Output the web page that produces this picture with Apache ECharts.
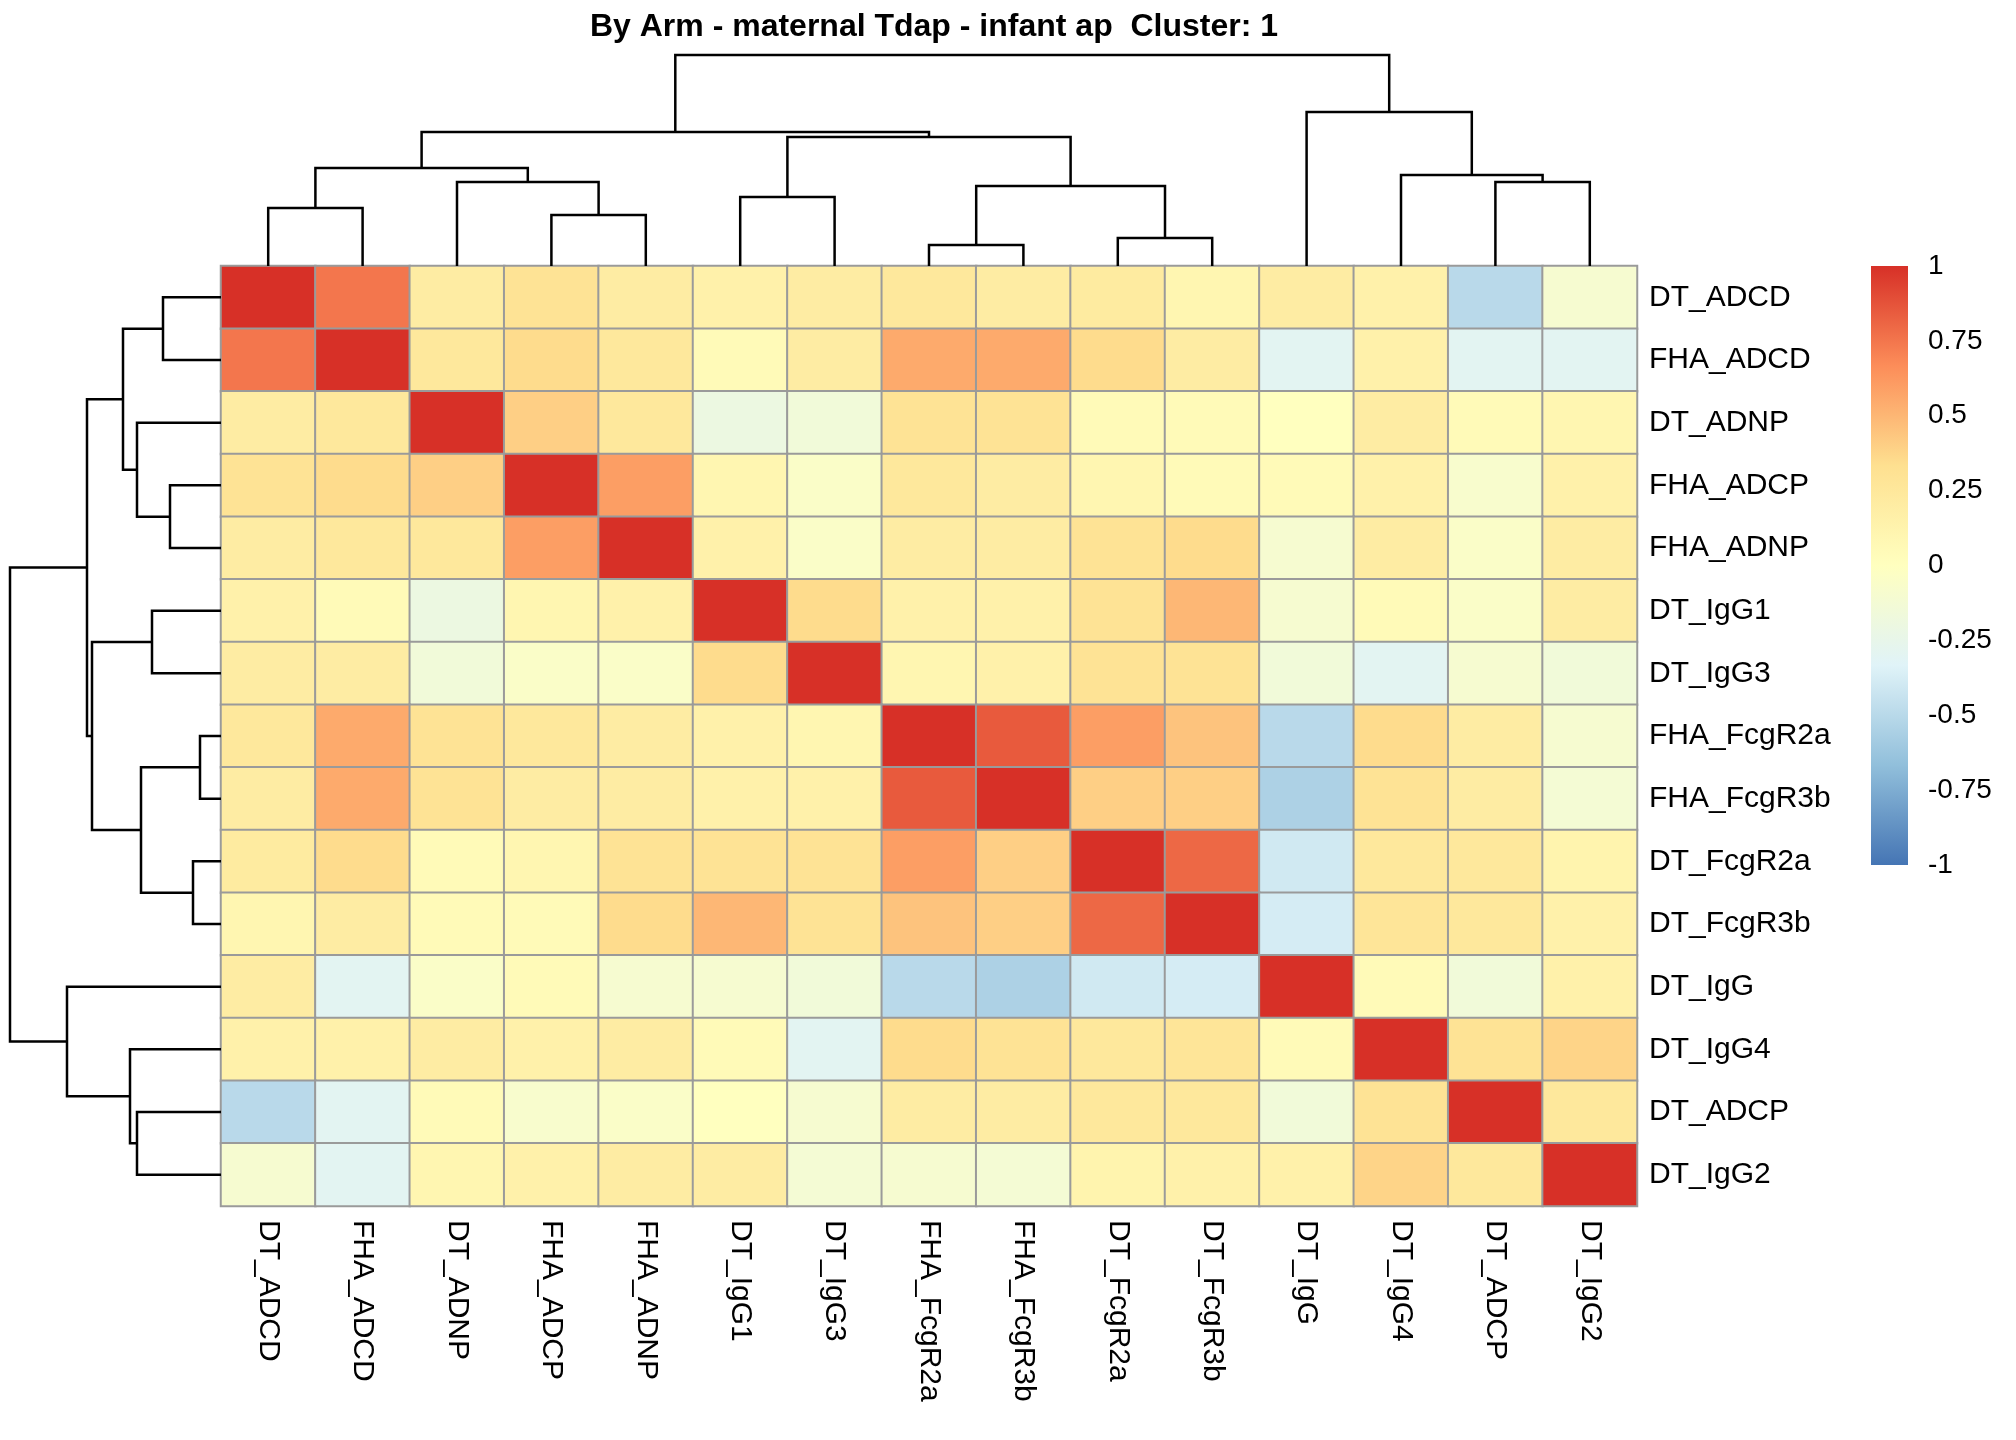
<!DOCTYPE html>
<html>
<head>
<meta charset="utf-8">
<script src="https://cdn.jsdelivr.net/npm/echarts@6/dist/echarts.min.js"></script>
<style>
  html, body { margin: 0; padding: 0; background: #fff; }
  #chart { width: 2016px; height: 1440px; }
</style>
</head>
<body>
<div id="chart"></div>
<script>
const labels = ['DT_ADCD', 'FHA_ADCD', 'DT_ADNP', 'FHA_ADCP', 'FHA_ADNP', 'DT_IgG1', 'DT_IgG3',
  'FHA_FcgR2a', 'FHA_FcgR3b', 'DT_FcgR2a', 'DT_FcgR3b', 'DT_IgG', 'DT_IgG4', 'DT_ADCP', 'DT_IgG2']

// correlation rows, same order as labels
const rowDT_ADCD = [1, 0.75, 0.2, 0.3, 0.2, 0.15, 0.2, 0.25, 0.2, 0.22, 0.1, 0.2, 0.15, -0.5, -0.1]
const rowFHA_ADCD = [0.75, 1, 0.25, 0.35, 0.25, 0.05, 0.2, 0.55, 0.55, 0.35, 0.2, -0.3, 0.15, -0.3, -0.3]
const rowDT_ADNP = [0.2, 0.25, 1, 0.4, 0.25, -0.2, -0.15, 0.3, 0.3, 0.05, 0.05, 0, 0.2, 0.05, 0.1]
const rowFHA_ADCP = [0.3, 0.35, 0.4, 1, 0.6, 0.1, -0.05, 0.25, 0.2, 0.1, 0.05, 0.05, 0.15, -0.08, 0.15]
const rowFHA_ADNP = [0.2, 0.25, 0.25, 0.6, 1, 0.15, -0.05, 0.2, 0.2, 0.3, 0.35, -0.1, 0.2, -0.05, 0.2]
const rowDT_IgG1 = [0.15, 0.05, -0.2, 0.1, 0.15, 1, 0.35, 0.15, 0.15, 0.3, 0.5, -0.1, 0.05, -0.05, 0.2]
const rowDT_IgG3 = [0.2, 0.2, -0.15, -0.05, -0.05, 0.35, 1, 0.1, 0.15, 0.3, 0.3, -0.15, -0.3, -0.1, -0.15]
const rowFHA_FcgR2a = [0.25, 0.55, 0.3, 0.25, 0.2, 0.15, 0.1, 1, 0.85, 0.6, 0.45, -0.5, 0.35, 0.2, -0.1]
const rowFHA_FcgR3b = [0.2, 0.55, 0.3, 0.2, 0.2, 0.15, 0.15, 0.85, 1, 0.4, 0.4, -0.55, 0.3, 0.2, -0.12]
const rowDT_FcgR2a = [0.22, 0.35, 0.05, 0.1, 0.3, 0.3, 0.3, 0.6, 0.4, 1, 0.8, -0.4, 0.25, 0.25, 0.12]
const rowDT_FcgR3b = [0.1, 0.2, 0.05, 0.05, 0.35, 0.5, 0.3, 0.45, 0.4, 0.8, 1, -0.38, 0.28, 0.25, 0.15]
const rowDT_IgG = [0.2, -0.3, -0.05, 0.05, -0.1, -0.1, -0.15, -0.5, -0.55, -0.4, -0.38, 1, 0.05, -0.15, 0.15]
const rowDT_IgG4 = [0.15, 0.15, 0.2, 0.15, 0.2, 0.05, -0.3, 0.35, 0.3, 0.25, 0.28, 0.05, 1, 0.3, 0.38]
const rowDT_ADCP = [-0.5, -0.3, 0.05, -0.08, -0.05, 0, -0.1, 0.2, 0.2, 0.25, 0.25, -0.15, 0.3, 1, 0.25]
const rowDT_IgG2 = [-0.1, -0.3, 0.1, 0.15, 0.2, 0.2, -0.12, -0.1, -0.12, 0.12, 0.15, 0.15, 0.38, 0.25, 1]
const rows = [rowDT_ADCD, rowFHA_ADCD, rowDT_ADNP, rowFHA_ADCP, rowFHA_ADNP, rowDT_IgG1, rowDT_IgG3,
  rowFHA_FcgR2a, rowFHA_FcgR3b, rowDT_FcgR2a, rowDT_FcgR3b, rowDT_IgG, rowDT_IgG4, rowDT_ADCP, rowDT_IgG2]

// hclust merges: [childA, childB, height]; ids 0-14 leaves, 15+ merged nodes
const merges = [
  [0, 1, 58], [3, 4, 51], [2, 16, 84], [15, 17, 98], [5, 6, 69], [7, 8, 21], [9, 10, 28],
  [20, 21, 80], [19, 22, 129], [18, 23, 134], [13, 14, 84], [12, 25, 91], [11, 26, 154], [24, 27, 211]
]
const legendTicks = [1, 0.75, 0.5, 0.25, 0, -0.25, -0.5, -0.75, -1]
const palette = ['#4575B4', '#91BFDB', '#E0F3F8', '#FFFFBF', '#FEE090', '#FC8D59', '#D73027']

const heatData = []
rows.forEach((r, i) => r.forEach((v, j) => heatData.push([j, i, v])))

// node positions / heights
const pos = labels.map((_, i) => i + 0.5)
const hgt = labels.map(() => 0)
const segs = []
merges.forEach(([a, b, h]) => {
  segs.push([pos[a], hgt[a], pos[b], hgt[b], h])
  pos.push((pos[a] + pos[b]) / 2)
  hgt.push(h)
})

const font = 'Liberation Sans, Arial, sans-serif'
const hm = { left: 221, top: 266, width: 1416, height: 940 }

function dendro(vertical) {
  return function (params, api) {
    const d = [0, 1, 2, 3, 4].map(k => api.value(k))
    const P = (p, h) => api.coord(vertical ? [p, h] : [h, p])
    const pts = [P(d[0], d[1]), P(d[0], d[4]), P(d[2], d[4]), P(d[2], d[3])]
    return { type: 'polyline', shape: { points: pts }, style: { stroke: '#000', lineWidth: 2.5, fill: null } }
  }
}

const chart = echarts.init(document.getElementById('chart'))
const hide = { show: false }
chart.setOption({
  animation: false,
  title: {
    text: 'By Arm - maternal Tdap - infant ap  Cluster: 1',
    left: 929, top: 6, textAlign: 'center',
    textStyle: { fontFamily: font, fontSize: 32, fontWeight: 'bold', color: '#000' }
  },
  grid: [
    hm,
    { left: 221, top: 55, width: 1416, height: 211 },
    { left: 10, top: 266, width: 211, height: 940 },
    { left: 1871, top: 266, width: 37, height: 599 }
  ],
  xAxis: [
    { type: 'category', data: labels, gridIndex: 0, position: 'bottom',
      axisLine: hide, axisTick: hide,
      axisLabel: { rotate: -90, fontFamily: font, fontSize: 30, color: '#000', margin: 14 } },
    { type: 'value', gridIndex: 1, min: 0, max: 15, show: false },
    { type: 'value', gridIndex: 2, min: 0, max: 211, inverse: true, show: false },
    { type: 'value', gridIndex: 3, min: 0, max: 1, show: false }
  ],
  yAxis: [
    { type: 'category', data: labels, gridIndex: 0, inverse: true, position: 'right',
      axisLine: hide, axisTick: hide,
      axisLabel: { fontFamily: font, fontSize: 30, color: '#000', margin: 12 } },
    { type: 'value', gridIndex: 1, min: 0, max: 211, show: false },
    { type: 'value', gridIndex: 2, min: 0, max: 15, inverse: true, show: false },
    { type: 'value', gridIndex: 3, min: -1, max: 1, interval: 0.25, position: 'right',
      axisLine: hide, axisTick: hide, splitLine: hide,
      axisLabel: { fontFamily: font, fontSize: 28, color: '#000', margin: 20,
        formatter: v => legendTicks.includes(v) ? String(v) : '' } }
  ],
  visualMap: { show: false, min: -1, max: 1, seriesIndex: 0, inRange: { color: palette } },
  series: [
    { type: 'heatmap', data: heatData, xAxisIndex: 0, yAxisIndex: 0,
      itemStyle: { borderColor: '#9a9a9a', borderWidth: 2 } },
    { type: 'custom', xAxisIndex: 1, yAxisIndex: 1, data: segs, renderItem: dendro(true) },
    { type: 'custom', xAxisIndex: 2, yAxisIndex: 2, data: segs, renderItem: dendro(false) },
    { type: 'custom', xAxisIndex: 3, yAxisIndex: 3, data: [[0, -1, 1, 1]],
      renderItem: (params, api) => {
        const p0 = api.coord([0, 1]), p1 = api.coord([1, -1])
        return { type: 'rect', shape: { x: p0[0], y: p0[1], width: p1[0] - p0[0], height: p1[1] - p0[1] },
          style: { fill: new echarts.graphic.LinearGradient(0, 1, 0, 0,
            palette.map((c, i) => ({ offset: i / (palette.length - 1), color: c }))) } }
      } }
  ]
})
</script>
</body>
</html>
